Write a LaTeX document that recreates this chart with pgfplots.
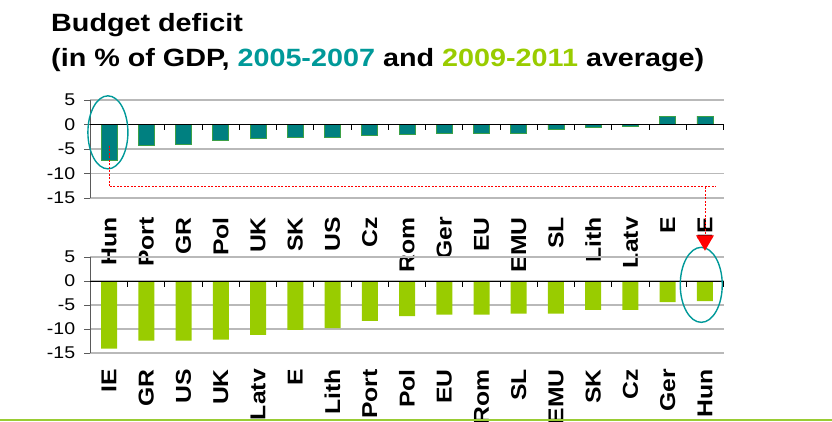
\documentclass[border=0pt]{standalone}
\usepackage{pgfplots}
\pgfplotsset{compat=1.18}
\usepackage{fontspec}
\setmainfont[FakeStretch=1.15]{Liberation Sans}
\definecolor{barteal}{RGB}{0,128,128}
\definecolor{baredge}{RGB}{60,160,70}
\definecolor{bargreen}{RGB}{153,204,0}
\definecolor{titteal}{RGB}{0,153,153}
\definecolor{titgreen}{RGB}{153,204,0}
\definecolor{ellteal}{RGB}{0,153,153}
\definecolor{gridgray}{RGB}{185,185,185}
\definecolor{axgray}{RGB}{90,90,90}
\definecolor{linegreen}{RGB}{153,204,51}
\begin{document}
\begin{tikzpicture}
\path[use as bounding box] (0pt,0pt) rectangle (832pt,421pt);
\pgfplotsset{
  base/.style={
    scale only axis, width=633.2pt, anchor=south west,
    xmin=-0.5, xmax=16.5, ymin=-15, ymax=5,
    ytick={-15,-10,-5,0,5},
    xtick={0,...,16},
    ymajorgrids, grid style={gridgray, line width=1.3pt},
    separate axis lines,
    axis x line*=bottom, axis y line*=left,
    x axis line style={draw=none},
    y axis line style={-, axgray, line width=0.9pt},
    major x tick style={draw=none},
    major y tick style={axgray, line width=0.9pt},
    ytick align=outside, major tick length=6pt,
    /pgf/number format/assume math mode=true,
    yticklabel style={font=\fontsize{17}{17}\selectfont, inner sep=0pt, xshift=-9pt},
    xticklabel style={font=\bfseries\fontsize{21.5}{21.5}\selectfont, rotate=90, anchor=east, inner sep=0pt},
    clip=false,
    ybar, bar width=16pt,
  }
}
% ---------------- top axis ----------------
\begin{axis}[base, at={(90.4pt,223pt)}, height=98pt,
  xticklabel style={xshift=-13pt},
  xticklabels={Hun,Port,GR,Pol,UK,SK,US,Cz,Rom,Ger,EU,EMU,SL,Lith,Latv,E,IE}]
\addplot[fill=barteal, draw=baredge, line width=0.6pt] coordinates {
 (0,-7.3) (1,-4.2) (2,-4.0) (3,-3.3) (4,-2.9) (5,-2.7) (6,-2.7) (7,-2.3)
 (8,-2.0) (9,-1.7) (10,-1.7) (11,-1.7) (12,-1.05) (13,-0.65) (14,-0.45)
 (15,1.7) (16,1.7)};
\draw[black, line width=0.8pt] (axis cs:-0.5,0) -- (axis cs:16.5,0);
\pgfplotsinvokeforeach{0.5,1.5,...,16.5}{\draw[black, line width=0.8pt] (axis cs:#1,0) -- ([yshift=-6pt]axis cs:#1,0);}
\draw[ellteal, line width=1.4pt] (axis cs:-0.03,-1.6) ellipse [x radius=20pt, y radius=36.5pt];
\draw[red, line width=0.8pt, dash pattern=on 2pt off 1.5pt] (axis cs:0,-4.3) -- (axis cs:0,-12.7) -- (axis cs:16.3,-12.7);
\end{axis}
% ---------------- bottom axis ----------------
\begin{axis}[base, at={(90.4pt,68pt)}, height=96pt,
  xticklabel style={xshift=-10pt},
  xticklabels={IE,GR,US,UK,Latv,E,Lith,Port,Pol,EU,Rom,SL,EMU,SK,Cz,Ger,Hun}]
\addplot[fill=bargreen, draw=none] coordinates {
 (0,-14.1) (1,-12.4) (2,-12.4) (3,-12.2) (4,-11.2) (5,-10.2) (6,-9.8) (7,-8.3)
 (8,-7.3) (9,-7.0) (10,-7.0) (11,-6.8) (12,-6.8) (13,-6.0) (14,-6.0)
 (15,-4.4) (16,-4.2)};
\draw[black, line width=0.8pt] (axis cs:-0.5,0) -- (axis cs:16.5,0);
\pgfplotsinvokeforeach{0.5,1.5,...,16.5}{\draw[black, line width=0.8pt] (axis cs:#1,0) -- ([yshift=-6pt]axis cs:#1,0);}
\draw[ellteal, line width=1.4pt] (axis cs:15.9,-0.8) ellipse [x radius=21pt, y radius=37.5pt];
\draw[red, line width=0.8pt, dash pattern=on 2pt off 1.5pt] (axis cs:16,19.6) -- (axis cs:16,9.4);
\fill[red] (axis cs:15.76,9.5) -- (axis cs:16.24,9.5) -- (axis cs:16,6.3) -- cycle;
\end{axis}
% ---------------- title ----------------
\node[anchor=base west, inner sep=0pt, font=\bfseries\fontsize{25}{25}\selectfont] at (51pt,389pt) {Budget deficit};
\node[anchor=base west, inner sep=0pt, font=\bfseries\fontsize{25}{25}\selectfont] at (51pt,354pt)
  {(in \% of GDP, \textcolor{titteal}{2005-2007} and \textcolor{titgreen}{2009-2011} average)};
\fill[linegreen] (0pt,0pt) rectangle (832pt,2.2pt);
\end{tikzpicture}
\end{document}
